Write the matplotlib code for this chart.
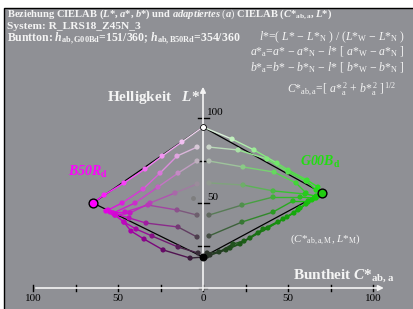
import matplotlib

matplotlib.use("Agg")
import matplotlib.pyplot as plt
from matplotlib.patches import Rectangle

# hue plane points: chroma C*ab,a and lightness L* (left = B50Rd, right = G00Bd)
white_L = 94.7
black_L = 18.2
cusp_left = (64.7, 50.0)
cusp_right = (70.0, 55.9)
lone_gray = (5.9, 52.9)

left_C = [
    [0, 12.4, 24.1, 34.1, 46.5, 58.2, 64.7],
    [3.5, 15.3, 25.3, 35.3, 47.6, 55.9],
    [3.5, 14.7, 26.5, 40.0, 52.9],
    [3.5, 16.5, 31.2, 42.9, 51.8],
    [3.5, 15.3, 32.4, 45.9, 54.7],
    [3.5, 14.7, 33.5, 43.5, 51.2],
    [2.9, 14.7, 30.0, 39.4, 46.5, 52.9],
    [0, 7.6, 23.5, 34.7, 42.4, 46.5, 51.8, 57.1],
]
left_L = [
    [94.7, 85.9, 77.6, 70.0, 61.8, 54.7, 50.0],
    [82.9, 77.6, 67.6, 58.2, 50.0, 45.9],
    [74.7, 67.6, 59.4, 50.0, 44.1],
    [61.2, 55.9, 50.0, 44.1, 42.9],
    [42.9, 45.9, 48.8, 44.7, 44.7],
    [30.0, 35.9, 38.2, 41.2, 43.5],
    [20.6, 24.1, 30.6, 34.7, 38.8, 44.1],
    [18.2, 17.6, 22.4, 28.8, 33.5, 38.8, 42.9, 45.3],
]
right_C = [
    [0, 17.1, 30.0, 43.5, 50.0, 61.2, 67.6, 70.0],
    [3.5, 20.6, 37.6, 50.0, 60.6, 66.5],
    [3.5, 23.5, 41.8, 54.7, 60.6],
    [3.5, 23.5, 41.2, 60.0, 66.5],
    [3.5, 22.9, 41.2, 57.1, 65.3],
    [3.5, 22.9, 41.2, 52.9, 61.8],
    [2.4, 9.4, 17.6, 24.1, 35.3, 47.1, 55.9, 61.8, 67.6],
    [2.4, 13.5, 21.8, 32.4, 44.1, 53.5, 60.6, 66.5],
    [4.1, 15.9, 27.6, 38.2, 49.4, 57.1, 64.1],
]
right_L = [
    [94.7, 87.6, 81.2, 73.5, 69.4, 63.5, 59.4, 55.9],
    [82.9, 81.2, 75.9, 68.2, 62.9, 57.6],
    [74.7, 71.2, 68.2, 61.8, 55.9],
    [61.8, 60.6, 57.1, 55.3, 54.1],
    [42.9, 48.8, 53.5, 53.5, 52.9],
    [30.6, 38.8, 44.7, 51.2, 51.2],
    [20.6, 21.2, 25.9, 27.6, 34.7, 40.6, 45.9, 50.6, 54.1],
    [18.8, 22.4, 25.9, 32.4, 38.8, 44.1, 49.4, 52.9],
    [19.4, 23.5, 29.4, 35.3, 41.8, 47.1, 51.8],
]
x_ticks = [-100, -75, -50, -25, 0, 25, 50, 75, 100]
x_tick_labels = {-100: "100", -50: "50", 0: "0", 50: "50", 100: "100"}
y_ticks = [25, 50, 75, 100]
y_tick_labels = {50: "50", 100: "100"}

plt.rcParams["font.family"] = "Liberation Serif"
plt.rcParams["mathtext.fontset"] = "custom"
plt.rcParams["mathtext.rm"] = "Liberation Serif"
plt.rcParams["mathtext.it"] = "Liberation Serif:italic:bold"
plt.rcParams["mathtext.bf"] = "Liberation Serif:bold"
plt.rcParams["mathtext.sf"] = "Liberation Serif:italic"

W, H = 413, 309
fig = plt.figure(figsize=(W / 100, H / 100), dpi=100)
fig.patch.set_facecolor("white")
fig.patches.append(Rectangle((4 / W, -0.01), 1.0, (H - 8) / H + 0.01, transform=fig.transFigure,
                             facecolor="#8f9095", edgecolor="black", lw=1.0, zorder=-5))

# axes: origin at pixel (203, 288), 1.7 px per unit
ax = fig.add_axes([0, 0, 1, 1])
ax.set_xlim(-203 / 1.7, (W - 203) / 1.7)
ax.set_ylim(-(H - 288) / 1.7, 288 / 1.7)
ax.patch.set_visible(False)
ax.axis("off")


def gray(L):
    y = ((L + 16) / 116) ** 3
    return 12.92 * y if y <= 0.0031308 else 1.055 * y ** (1 / 2.4) - 0.055


def point_color(c, L, cusp, hue_rgb):
    t = c / cusp[0]
    g = gray(L)
    gm = gray(cusp[1])
    return tuple(min(1, max(0, g + t * (h - gm))) for h in hue_rgb)


def px(x, y):
    return x / W, 1 - y / H


white_fg = "#f4f4f4"

# axes lines
ax.annotate("", xy=(108, 0), xytext=(-100, 0),
            arrowprops=dict(arrowstyle="-|>", color=white_fg, lw=1.2, mutation_scale=8))
ax.annotate("", xy=(0, 120), xytext=(0, -3),
            arrowprops=dict(arrowstyle="-|>", color=white_fg, lw=1.2, mutation_scale=8))
for t in x_ticks:
    ax.plot([t, t], [-2, 2], color="black", lw=1)
    if t in x_tick_labels:
        ax.text(t, -6, x_tick_labels[t], ha="center", va="center", fontsize=8, color="black")
ax.plot([-2.5, 2.5], [0, 0], color="black", lw=1)
for t in y_ticks:
    ax.plot([-3, 3.5], [t, t], color="black", lw=1)
    if t in y_tick_labels:
        ax.text(2.4, t + 3, y_tick_labels[t], ha="left", va="center", fontsize=8, color="black")

# reference triangles
for cusp, sign in [(cusp_left, -1), (cusp_right, 1)]:
    ax.plot([0, sign * cusp[0], 0], [white_L, cusp[1], black_L], color="black", lw=0.9, zorder=2)

# colour rows
for Cs, Ls, cusp, sign, hue in [(left_C, left_L, cusp_left, -1, (1.0, 0.0, 1.0)),
                                 (right_C, right_L, cusp_right, 1, (0.1, 0.85, 0.05))]:
    for cs, ls in zip(Cs, Ls):
        cols = [point_color(c, l, cusp, hue) for c, l in zip(cs, ls)]
        for i in range(len(cs) - 1):
            mid = point_color((cs[i] + cs[i + 1]) / 2, (ls[i] + ls[i + 1]) / 2, cusp, hue)
            ax.plot([sign * cs[i], sign * cs[i + 1]], [ls[i], ls[i + 1]], color=mid, lw=1, zorder=3)
        ax.scatter([sign * c for c in cs], ls, s=14, c=cols, edgecolors="none", zorder=4)

g = gray(lone_gray[1])
ax.scatter([-lone_gray[0]], [lone_gray[1]], s=6, color=(g, g, g), zorder=4)
ax.scatter([0], [white_L], s=18, c="white", edgecolors="black", linewidths=0.6, zorder=5)
ax.scatter([0], [black_L], s=22, c="black", zorder=5)
ax.scatter([-cusp_left[0]], [cusp_left[1]], s=40, c="#ff00ff", edgecolors="black", linewidths=1, zorder=5)
ax.scatter([cusp_right[0]], [cusp_right[1]], s=40, c="#22cc11", edgecolors="black", linewidths=1, zorder=5)

# header texts
fig.text(*px(7, 17), r"Beziehung CIELAB ($L$*, $a$*, $b$*) und $adaptiertes$ $(a)$ CIELAB ($C$*$_{\mathbf{ab,a}}$, $L$*)",
         fontsize=7.6, fontweight="bold", color=white_fg, va="baseline")
fig.text(*px(7, 29), "System: R_LRS18_Z45N_3", fontsize=8.2, fontweight="bold", color=white_fg, va="baseline")
fig.text(*px(7, 42), r"Buntton: $h_{\mathbf{ab,G00Bd}}$=151/360; $h_{\mathbf{ab,B50Rd}}$=354/360",
         fontsize=8.5, fontweight="bold", color=white_fg, va="baseline")

formulas = [
    (405, 40, r"$\mathsf{l}$*=( $\mathsf{L}$* − $\mathsf{L}$*$_{\rm N}$ ) / ($\mathsf{L}$*$_{\rm W}$ − $\mathsf{L}$*$_{\rm N}$ )"),
    (405, 55, r"$\mathsf{a}$*$_{\rm a}$=$\mathsf{a}$* − $\mathsf{a}$*$_{\rm N}$ − $\mathsf{l}$* [ $\mathsf{a}$*$_{\rm W}$ − $\mathsf{a}$*$_{\rm N}$ ]"),
    (405, 71, r"$\mathsf{b}$*$_{\rm a}$=$\mathsf{b}$* − $\mathsf{b}$*$_{\rm N}$ − $\mathsf{l}$* [ $\mathsf{b}$*$_{\rm W}$ − $\mathsf{b}$*$_{\rm N}$ ]"),
    (397, 92, r"$\mathsf{C}$*$_{\rm ab,a}$=[ $\mathsf{a}$*${}_{\rm a}^{\,2}$ + $\mathsf{b}$*${}_{\rm a}^{\,2}$ ]$^{\,1/2}$"),
]
for x, y, s in formulas:
    fig.text(*px(x, y), s, fontsize=8.5, color=white_fg, ha="right", va="baseline")

fig.text(*px(107, 101), r"Helligkeit   $L$*", fontsize=11, fontweight="bold", color=white_fg, va="baseline")
fig.text(*px(293, 279), r"Buntheit $C$*$_{\mathbf{ab,a}}$", fontsize=11, fontweight="bold", color=white_fg, va="baseline")
fig.text(*px(68, 176), r"B50R$_{\mathbf{d}}$", fontsize=10, fontweight="bold", fontstyle="italic",
         color="#ff00ff", va="baseline")
fig.text(*px(300, 166), r"G00B$_{\mathbf{d}}$", fontsize=10, fontweight="bold", fontstyle="italic",
         color="#22dd11", va="baseline")
fig.text(*px(290, 242), r"($\mathsf{C}$*$_{\rm ab,a,M}$, $\mathsf{L}$*$_{\rm M}$)", fontsize=8, color=white_fg, va="baseline")

fig.savefig("out.png", dpi=100)
plt.close(fig)
